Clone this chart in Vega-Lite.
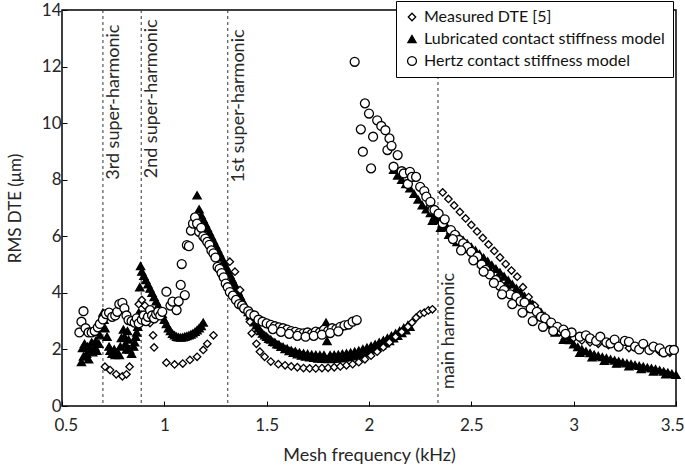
{
  "$schema": "https://vega.github.io/schema/vega-lite/v6.json",
  "width": 614,
  "height": 396,
  "autosize": "none",
  "padding": {"left": 62, "top": 10, "right": 9, "bottom": 64},
  "background": "white",
  "config": {
    "view": {"stroke": "black", "strokeWidth": 1.5},
    "font": "Lato",
    "axis": {
      "grid": false,
      "domain": false,
      "tickSize": -5,
      "tickColor": "black",
      "tickWidth": 1,
      "labelFont": "Lato",
      "labelFontSize": 17,
      "labelColor": "#262626",
      "titleFont": "Lato",
      "titleFontSize": 18,
      "titleFontWeight": "normal",
      "titleColor": "#262626"
    },
    "legend": {
      "title": null, "orient": "none", "legendX": 334, "legendY": -9,
      "strokeColor": "black", "fillColor": "white", "padding": 8,
      "labelFont": "Lato", "labelFontSize": 16, "labelColor": "#111111", "labelLimit": 400,
      "symbolStrokeWidth": 1.3, "rowPadding": 6
    }
  },
  "datasets": {
    "lines": [
      {"x": 0.7, "t": "3rd super-harmonic", "ty": 8.0},
      {"x": 0.887, "t": "2nd super-harmonic", "ty": 8.05},
      {"x": 1.31, "t": "1st super-harmonic", "ty": 7.9},
      {"x": 2.337, "t": "main harmonic", "ty": 0.6}
    ],
    "pts": [
      {"s":"L","x":0.595,"y":1.55},{"s":"L","x":0.6,"y":2.05},{"s":"L","x":0.605,"y":1.75},{"s":"L","x":0.61,"y":2.2},{"s":"L","x":0.62,"y":1.85},{"s":"L","x":0.625,"y":2.1},{"s":"L","x":0.63,"y":1.65},{"s":"L","x":0.64,"y":2.0},{"s":"L","x":0.645,"y":2.25},{"s":"L","x":0.65,"y":1.9},{"s":"L","x":0.66,"y":2.1},{"s":"L","x":0.665,"y":2.3},{"s":"L","x":0.67,"y":1.95},{"s":"L","x":0.68,"y":2.2},{"s":"L","x":0.685,"y":2.5},{"s":"L","x":0.69,"y":2.8},{"s":"L","x":0.7,"y":3.3},{"s":"L","x":0.705,"y":3.05},{"s":"L","x":0.71,"y":2.75},{"s":"L","x":0.72,"y":2.45},{"s":"L","x":0.73,"y":2.1},{"s":"L","x":0.735,"y":1.95},{"s":"L","x":0.745,"y":1.85},{"s":"L","x":0.755,"y":2.0},{"s":"L","x":0.76,"y":1.8},{"s":"L","x":0.77,"y":1.9},{"s":"L","x":0.78,"y":1.8},{"s":"L","x":0.785,"y":2.1},{"s":"L","x":0.79,"y":2.4},{"s":"L","x":0.8,"y":2.7},{"s":"L","x":0.805,"y":2.45},{"s":"L","x":0.81,"y":2.2},{"s":"L","x":0.815,"y":2.0},{"s":"L","x":0.82,"y":2.65},{"s":"L","x":0.825,"y":2.35},{"s":"L","x":0.83,"y":2.0},{"s":"L","x":0.84,"y":1.85},{"s":"L","x":0.85,"y":2.1},{"s":"L","x":0.855,"y":2.25},{"s":"L","x":0.86,"y":2.45},{"s":"L","x":0.865,"y":2.6},{"s":"L","x":0.87,"y":2.8},{"s":"L","x":0.875,"y":3.3},{"s":"L","x":0.88,"y":4.2},{"s":"L","x":0.884,"y":4.95},{"s":"L","x":0.89,"y":4.75},{"s":"L","x":0.9,"y":4.6},{"s":"L","x":0.91,"y":4.45},{"s":"L","x":0.92,"y":4.3},{"s":"L","x":0.93,"y":4.15},{"s":"L","x":0.94,"y":4.0},{"s":"L","x":0.95,"y":3.85},{"s":"L","x":0.96,"y":3.7},{"s":"L","x":0.97,"y":3.55},{"s":"L","x":0.98,"y":3.4},{"s":"L","x":0.99,"y":3.25},{"s":"L","x":1.0,"y":3.05},{"s":"L","x":1.01,"y":2.9},{"s":"L","x":1.02,"y":2.75},{"s":"L","x":1.03,"y":2.65},{"s":"L","x":1.04,"y":2.55},{"s":"L","x":1.05,"y":2.5},{"s":"L","x":1.06,"y":2.45},{"s":"L","x":1.07,"y":2.43},{"s":"L","x":1.08,"y":2.42},{"s":"L","x":1.09,"y":2.43},{"s":"L","x":1.1,"y":2.45},{"s":"L","x":1.11,"y":2.47},{"s":"L","x":1.12,"y":2.5},{"s":"L","x":1.13,"y":2.53},{"s":"L","x":1.14,"y":2.57},{"s":"L","x":1.15,"y":2.62},{"s":"L","x":1.16,"y":2.68},{"s":"L","x":1.17,"y":2.75},{"s":"L","x":1.18,"y":2.83},{"s":"L","x":1.19,"y":2.95},
      {"s":"L","x":1.16,"y":7.45},{"s":"L","x":1.17,"y":6.95},{"s":"L","x":1.18,"y":6.75},{"s":"L","x":1.19,"y":6.6},{"s":"L","x":1.2,"y":6.45},{"s":"L","x":1.21,"y":6.3},{"s":"L","x":1.22,"y":6.15},{"s":"L","x":1.23,"y":6.0},{"s":"L","x":1.24,"y":5.85},{"s":"L","x":1.25,"y":5.7},{"s":"L","x":1.26,"y":5.55},{"s":"L","x":1.27,"y":5.4},{"s":"L","x":1.28,"y":5.25},{"s":"L","x":1.29,"y":5.1},{"s":"L","x":1.3,"y":4.95},{"s":"L","x":1.31,"y":4.8},{"s":"L","x":1.32,"y":4.65},{"s":"L","x":1.33,"y":4.5},{"s":"L","x":1.34,"y":4.35},{"s":"L","x":1.35,"y":4.2},{"s":"L","x":1.36,"y":4.05},{"s":"L","x":1.37,"y":3.9},{"s":"L","x":1.38,"y":3.75},{"s":"L","x":1.39,"y":3.6},{"s":"L","x":1.4,"y":3.45},{"s":"L","x":1.41,"y":3.32},{"s":"L","x":1.42,"y":3.2},{"s":"L","x":1.43,"y":3.08},{"s":"L","x":1.44,"y":2.96},{"s":"L","x":1.45,"y":2.85},{"s":"L","x":1.46,"y":2.75},{"s":"L","x":1.47,"y":2.65},{"s":"L","x":1.48,"y":2.56},{"s":"L","x":1.49,"y":2.5},
      {"s":"L","x":1.5,"y":2.45},{"s":"L","x":1.51,"y":2.38},{"s":"L","x":1.52,"y":2.35},{"s":"L","x":1.53,"y":2.27},{"s":"L","x":1.54,"y":2.25},{"s":"L","x":1.55,"y":2.18},{"s":"L","x":1.56,"y":2.17},{"s":"L","x":1.57,"y":2.09},{"s":"L","x":1.58,"y":2.09},{"s":"L","x":1.59,"y":2.01},{"s":"L","x":1.6,"y":2.03},{"s":"L","x":1.61,"y":1.94},{"s":"L","x":1.62,"y":1.97},{"s":"L","x":1.63,"y":1.88},{"s":"L","x":1.64,"y":1.93},{"s":"L","x":1.65,"y":1.83},{"s":"L","x":1.66,"y":1.89},{"s":"L","x":1.67,"y":1.78},{"s":"L","x":1.68,"y":1.86},{"s":"L","x":1.69,"y":1.75},{"s":"L","x":1.7,"y":1.84},{"s":"L","x":1.71,"y":1.72},{"s":"L","x":1.72,"y":1.82},{"s":"L","x":1.73,"y":1.7},{"s":"L","x":1.74,"y":1.81},{"s":"L","x":1.75,"y":1.68},{"s":"L","x":1.76,"y":1.8},{"s":"L","x":1.77,"y":1.67},{"s":"L","x":1.78,"y":1.8},{"s":"L","x":1.79,"y":2.95},{"s":"L","x":1.795,"y":2.3},{"s":"L","x":1.8,"y":1.66},{"s":"L","x":1.81,"y":1.8},{"s":"L","x":1.82,"y":1.67},{"s":"L","x":1.83,"y":1.81},{"s":"L","x":1.84,"y":1.68},{"s":"L","x":1.85,"y":1.82},{"s":"L","x":1.86,"y":1.69},{"s":"L","x":1.87,"y":1.84},{"s":"L","x":1.88,"y":1.71},{"s":"L","x":1.89,"y":1.86},{"s":"L","x":1.9,"y":1.73},{"s":"L","x":1.91,"y":1.89},{"s":"L","x":1.92,"y":1.76},{"s":"L","x":1.93,"y":1.92},{"s":"L","x":1.94,"y":1.8},{"s":"L","x":1.95,"y":1.96},{"s":"L","x":1.96,"y":1.84},{"s":"L","x":1.97,"y":2.01},{"s":"L","x":1.98,"y":1.89},{"s":"L","x":1.99,"y":2.06},{"s":"L","x":2.0,"y":1.94},{"s":"L","x":2.01,"y":2.12},{"s":"L","x":2.02,"y":2.0},{"s":"L","x":2.03,"y":2.18},{"s":"L","x":2.04,"y":2.07},{"s":"L","x":2.05,"y":2.25},{"s":"L","x":2.06,"y":2.14},{"s":"L","x":2.07,"y":2.32},{"s":"L","x":2.08,"y":2.22},{"s":"L","x":2.09,"y":2.4},{"s":"L","x":2.1,"y":2.3},{"s":"L","x":2.11,"y":2.48},{"s":"L","x":2.12,"y":2.39},{"s":"L","x":2.13,"y":2.57},{"s":"L","x":2.14,"y":2.48},{"s":"L","x":2.15,"y":2.66},{"s":"L","x":2.16,"y":2.58},{"s":"L","x":2.17,"y":2.76},{"s":"L","x":2.18,"y":2.68},{"s":"L","x":2.19,"y":2.86},{"s":"L","x":2.2,"y":2.8},
      {"s":"L","x":2.12,"y":8.35},{"s":"L","x":2.14,"y":8.15},{"s":"L","x":2.16,"y":8.0},{"s":"L","x":2.18,"y":7.85},{"s":"L","x":2.2,"y":7.7},{"s":"L","x":2.22,"y":7.5},{"s":"L","x":2.24,"y":7.3},{"s":"L","x":2.26,"y":7.1},{"s":"L","x":2.28,"y":6.95},{"s":"L","x":2.3,"y":6.82},{"s":"L","x":2.32,"y":6.7},{"s":"L","x":2.34,"y":6.58},{"s":"L","x":2.36,"y":6.46},{"s":"L","x":2.38,"y":6.34},{"s":"L","x":2.4,"y":6.22},{"s":"L","x":2.42,"y":6.1},{"s":"L","x":2.44,"y":5.98},{"s":"L","x":2.46,"y":5.86},{"s":"L","x":2.48,"y":5.74},{"s":"L","x":2.5,"y":5.62},{"s":"L","x":2.52,"y":5.5},{"s":"L","x":2.54,"y":5.37},{"s":"L","x":2.56,"y":5.24},{"s":"L","x":2.58,"y":5.11},{"s":"L","x":2.6,"y":4.98},{"s":"L","x":2.62,"y":4.85},{"s":"L","x":2.64,"y":4.72},{"s":"L","x":2.66,"y":4.58},{"s":"L","x":2.68,"y":4.44},{"s":"L","x":2.7,"y":4.3},{"s":"L","x":2.72,"y":4.16},{"s":"L","x":2.74,"y":4.02},{"s":"L","x":2.76,"y":3.88},{"s":"L","x":2.78,"y":3.74},{"s":"L","x":2.8,"y":3.6},{"s":"L","x":2.82,"y":3.46},{"s":"L","x":2.84,"y":3.32},{"s":"L","x":2.86,"y":3.18},{"s":"L","x":2.88,"y":3.04},{"s":"L","x":2.9,"y":2.9},{"s":"L","x":2.92,"y":2.76},{"s":"L","x":2.94,"y":2.62},{"s":"L","x":2.96,"y":2.48},{"s":"L","x":2.98,"y":2.33},{"s":"L","x":3.0,"y":2.18},{"s":"L","x":3.02,"y":2.08},{"s":"L","x":3.04,"y":2.0},{"s":"L","x":3.06,"y":1.93},{"s":"L","x":3.08,"y":1.87},{"s":"L","x":3.1,"y":1.82},{"s":"L","x":3.12,"y":1.77},{"s":"L","x":3.14,"y":1.73},{"s":"L","x":3.16,"y":1.69},{"s":"L","x":3.18,"y":1.65},{"s":"L","x":3.2,"y":1.61},{"s":"L","x":3.22,"y":1.58},{"s":"L","x":3.24,"y":1.54},{"s":"L","x":3.26,"y":1.51},{"s":"L","x":3.28,"y":1.48},{"s":"L","x":3.3,"y":1.45},{"s":"L","x":3.32,"y":1.42},{"s":"L","x":3.34,"y":1.39},{"s":"L","x":3.36,"y":1.36},{"s":"L","x":3.38,"y":1.33},{"s":"L","x":3.4,"y":1.3},{"s":"L","x":3.42,"y":1.26},{"s":"L","x":3.44,"y":1.22},{"s":"L","x":3.46,"y":1.18},{"s":"L","x":3.48,"y":1.14},{"s":"L","x":3.5,"y":1.1},
      {"s":"L","x":2.31,"y":6.55},{"s":"L","x":2.35,"y":6.3},{"s":"L","x":2.39,"y":6.05},{"s":"L","x":2.43,"y":5.8},{"s":"L","x":2.47,"y":5.55},{"s":"L","x":2.51,"y":5.3},{"s":"L","x":2.55,"y":5.05},{"s":"L","x":2.59,"y":4.8},{"s":"L","x":2.63,"y":4.55},{"s":"L","x":2.67,"y":4.28},{"s":"L","x":2.71,"y":4.0},{"s":"L","x":2.75,"y":3.72},{"s":"L","x":2.79,"y":3.44},{"s":"L","x":2.83,"y":3.16},{"s":"L","x":2.87,"y":2.88},{"s":"L","x":2.91,"y":2.6},{"s":"L","x":2.95,"y":2.34},{"s":"L","x":3.03,"y":1.88},{"s":"L","x":3.09,"y":1.72},{"s":"L","x":3.15,"y":1.6},{"s":"L","x":3.21,"y":1.5},{"s":"L","x":3.27,"y":1.4},{"s":"L","x":3.33,"y":1.31},{"s":"L","x":3.39,"y":1.22},{"s":"L","x":3.45,"y":1.12},
      {"s":"M","x":0.71,"y":1.39},{"s":"M","x":0.735,"y":1.27},{"s":"M","x":0.765,"y":1.12},{"s":"M","x":0.795,"y":1.05},{"s":"M","x":0.815,"y":1.12},{"s":"M","x":0.83,"y":1.39},{"s":"M","x":0.86,"y":3.0},{"s":"M","x":0.875,"y":3.6},{"s":"M","x":0.89,"y":3.75},{"s":"M","x":0.905,"y":3.55},{"s":"M","x":0.92,"y":3.2},{"s":"M","x":0.93,"y":2.93},{"s":"M","x":0.945,"y":2.5},{"s":"M","x":0.95,"y":2.07},{"s":"M","x":1.01,"y":1.53},{"s":"M","x":1.05,"y":1.47},{"s":"M","x":1.09,"y":1.5},{"s":"M","x":1.125,"y":1.63},{"s":"M","x":1.16,"y":1.74},{"s":"M","x":1.19,"y":1.98},{"s":"M","x":1.21,"y":2.2},{"s":"M","x":1.24,"y":2.5},{"s":"M","x":1.32,"y":5.1},{"s":"M","x":1.345,"y":4.75},{"s":"M","x":1.37,"y":4.1},{"s":"M","x":1.39,"y":3.5},{"s":"M","x":1.418,"y":2.98},{"s":"M","x":1.427,"y":2.57},{"s":"M","x":1.45,"y":2.2},{"s":"M","x":1.467,"y":1.92},{"s":"M","x":1.49,"y":1.74},{"s":"M","x":1.52,"y":1.57},{"s":"M","x":1.557,"y":1.48},{"s":"M","x":1.59,"y":1.44},{"s":"M","x":1.62,"y":1.4},{"s":"M","x":1.65,"y":1.37},{"s":"M","x":1.68,"y":1.34},{"s":"M","x":1.71,"y":1.33},{"s":"M","x":1.74,"y":1.33},{"s":"M","x":1.77,"y":1.34},{"s":"M","x":1.8,"y":1.35},{"s":"M","x":1.83,"y":1.37},{"s":"M","x":1.86,"y":1.4},{"s":"M","x":1.89,"y":1.44},{"s":"M","x":1.92,"y":1.48},{"s":"M","x":1.95,"y":1.55},{"s":"M","x":1.98,"y":1.65},{"s":"M","x":2.01,"y":1.78},{"s":"M","x":2.04,"y":1.92},{"s":"M","x":2.07,"y":2.08},{"s":"M","x":2.1,"y":2.25},{"s":"M","x":2.13,"y":2.45},{"s":"M","x":2.16,"y":2.62},{"s":"M","x":2.19,"y":2.8},{"s":"M","x":2.21,"y":2.95},{"s":"M","x":2.23,"y":3.12},{"s":"M","x":2.25,"y":3.25},{"s":"M","x":2.27,"y":3.3},{"s":"M","x":2.29,"y":3.38},{"s":"M","x":2.31,"y":3.42},
      {"s":"M","x":2.36,"y":7.55},{"s":"M","x":2.388,"y":7.32},{"s":"M","x":2.416,"y":7.09},{"s":"M","x":2.444,"y":6.86},{"s":"M","x":2.472,"y":6.63},{"s":"M","x":2.5,"y":6.4},{"s":"M","x":2.528,"y":6.17},{"s":"M","x":2.556,"y":5.94},{"s":"M","x":2.584,"y":5.71},{"s":"M","x":2.612,"y":5.48},{"s":"M","x":2.64,"y":5.25},{"s":"M","x":2.668,"y":5.02},{"s":"M","x":2.696,"y":4.79},{"s":"M","x":2.724,"y":4.57},{"s":"M","x":2.752,"y":4.2},{"s":"M","x":2.78,"y":3.85},{"s":"M","x":2.81,"y":3.55},{"s":"M","x":2.84,"y":3.25},{"s":"M","x":2.87,"y":3.0},{"s":"M","x":2.9,"y":2.8},{"s":"M","x":2.93,"y":2.62},{"s":"M","x":2.96,"y":2.5},{"s":"M","x":3.0,"y":2.4},{"s":"M","x":3.04,"y":2.32},{"s":"M","x":3.08,"y":2.25},{"s":"M","x":3.12,"y":2.2},{"s":"M","x":3.17,"y":2.15},{"s":"M","x":3.22,"y":2.1},{"s":"M","x":3.27,"y":2.05},{"s":"M","x":3.32,"y":2.0},{"s":"M","x":3.37,"y":1.95},{"s":"M","x":3.42,"y":1.92},{"s":"M","x":3.47,"y":1.88},
      {"s":"H","x":0.585,"y":2.6},{"s":"H","x":0.595,"y":2.98},{"s":"H","x":0.605,"y":3.35},{"s":"H","x":0.615,"y":2.75},{"s":"H","x":0.63,"y":2.6},{"s":"H","x":0.645,"y":2.6},{"s":"H","x":0.66,"y":2.65},{"s":"H","x":0.675,"y":2.78},{"s":"H","x":0.685,"y":2.9},{"s":"H","x":0.7,"y":3.06},{"s":"H","x":0.715,"y":3.25},{"s":"H","x":0.73,"y":3.3},{"s":"H","x":0.745,"y":3.15},{"s":"H","x":0.76,"y":3.2},{"s":"H","x":0.77,"y":3.33},{"s":"H","x":0.78,"y":3.6},{"s":"H","x":0.795,"y":3.65},{"s":"H","x":0.805,"y":3.45},{"s":"H","x":0.815,"y":3.2},{"s":"H","x":0.825,"y":3.04},{"s":"H","x":0.84,"y":3.0},{"s":"H","x":0.855,"y":2.95},{"s":"H","x":0.865,"y":3.1},{"s":"H","x":0.875,"y":2.92},{"s":"H","x":0.89,"y":3.05},{"s":"H","x":0.9,"y":3.2},{"s":"H","x":0.91,"y":3.0},{"s":"H","x":0.92,"y":3.15},{"s":"H","x":0.93,"y":3.39},{"s":"H","x":0.94,"y":3.2},{"s":"H","x":0.95,"y":3.1},{"s":"H","x":0.96,"y":3.25},{"s":"H","x":0.97,"y":3.33},{"s":"H","x":0.98,"y":3.2},{"s":"H","x":0.99,"y":3.33},{"s":"H","x":1.01,"y":4.04},{"s":"H","x":1.03,"y":3.55},{"s":"H","x":1.04,"y":3.69},{"s":"H","x":1.06,"y":3.39},{"s":"H","x":1.07,"y":3.7},{"s":"H","x":1.08,"y":4.28},{"s":"H","x":1.1,"y":3.92},{"s":"H","x":1.085,"y":5.02},{"s":"H","x":1.11,"y":5.69},{"s":"H","x":1.12,"y":5.65},{"s":"H","x":1.13,"y":6.2},{"s":"H","x":1.14,"y":6.45},{"s":"H","x":1.15,"y":6.67},{"s":"H","x":1.16,"y":6.45},{"s":"H","x":1.17,"y":6.16},{"s":"H","x":1.18,"y":6.3},{"s":"H","x":1.19,"y":6.0},{"s":"H","x":1.2,"y":5.92},{"s":"H","x":1.21,"y":5.8},{"s":"H","x":1.22,"y":5.7},{"s":"H","x":1.23,"y":5.5},{"s":"H","x":1.24,"y":5.4},{"s":"H","x":1.25,"y":5.25},{"s":"H","x":1.26,"y":4.92},{"s":"H","x":1.27,"y":4.85},{"s":"H","x":1.28,"y":4.7},{"s":"H","x":1.29,"y":4.55},{"s":"H","x":1.3,"y":4.33},{"s":"H","x":1.31,"y":4.2},{"s":"H","x":1.32,"y":4.03},{"s":"H","x":1.335,"y":3.9},{"s":"H","x":1.35,"y":3.75},{"s":"H","x":1.365,"y":3.6},{"s":"H","x":1.38,"y":3.55},{"s":"H","x":1.39,"y":3.45},{"s":"H","x":1.41,"y":3.35},{"s":"H","x":1.42,"y":3.25},{"s":"H","x":1.44,"y":3.2},{"s":"H","x":1.46,"y":3.05},{"s":"H","x":1.48,"y":2.98},{"s":"H","x":1.5,"y":2.92},{"s":"H","x":1.52,"y":2.87},{"s":"H","x":1.54,"y":2.82},{"s":"H","x":1.56,"y":2.78},{"s":"H","x":1.58,"y":2.75},{"s":"H","x":1.6,"y":2.7},{"s":"H","x":1.62,"y":2.65},{"s":"H","x":1.64,"y":2.62},{"s":"H","x":1.66,"y":2.58},{"s":"H","x":1.68,"y":2.57},{"s":"H","x":1.7,"y":2.6},{"s":"H","x":1.72,"y":2.55},{"s":"H","x":1.74,"y":2.63},{"s":"H","x":1.76,"y":2.6},{"s":"H","x":1.78,"y":2.69},{"s":"H","x":1.8,"y":2.65},{"s":"H","x":1.82,"y":2.75},{"s":"H","x":1.84,"y":2.72},{"s":"H","x":1.86,"y":2.8},{"s":"H","x":1.88,"y":2.85},{"s":"H","x":1.9,"y":2.88},{"s":"H","x":1.92,"y":2.98},{"s":"H","x":1.94,"y":3.04},
      {"s":"H","x":1.53,"y":2.72},{"s":"H","x":1.57,"y":2.62},{"s":"H","x":1.61,"y":2.55},{"s":"H","x":1.65,"y":2.48},{"s":"H","x":1.69,"y":2.45},{"s":"H","x":1.73,"y":2.48},{"s":"H","x":1.77,"y":2.52},{"s":"H","x":1.81,"y":2.58},{"s":"H","x":1.85,"y":2.64},
      {"s":"H","x":1.93,"y":12.17},{"s":"H","x":1.96,"y":9.78},{"s":"H","x":1.97,"y":8.99},{"s":"H","x":1.98,"y":10.7},{"s":"H","x":2.0,"y":10.34},{"s":"H","x":2.01,"y":8.4},{"s":"H","x":2.02,"y":9.52},{"s":"H","x":2.04,"y":10.1},{"s":"H","x":2.06,"y":9.9},{"s":"H","x":2.08,"y":9.75},{"s":"H","x":2.09,"y":9.05},{"s":"H","x":2.1,"y":9.46},{"s":"H","x":2.11,"y":9.2},{"s":"H","x":2.12,"y":8.46},{"s":"H","x":2.14,"y":8.87},{"s":"H","x":2.16,"y":8.3},{"s":"H","x":2.17,"y":8.22},{"s":"H","x":2.19,"y":7.85},{"s":"H","x":2.2,"y":8.28},{"s":"H","x":2.21,"y":8.1},{"s":"H","x":2.23,"y":8.1},{"s":"H","x":2.25,"y":7.75},{"s":"H","x":2.27,"y":7.6},{"s":"H","x":2.28,"y":7.4},{"s":"H","x":2.3,"y":7.22},{"s":"H","x":2.31,"y":6.93},{"s":"H","x":2.32,"y":6.93},{"s":"H","x":2.34,"y":6.8},{"s":"H","x":2.36,"y":6.46},{"s":"H","x":2.37,"y":6.6},{"s":"H","x":2.4,"y":6.22},{"s":"H","x":2.42,"y":6.05},{"s":"H","x":2.44,"y":5.87},{"s":"H","x":2.46,"y":5.75},{"s":"H","x":2.48,"y":5.63},{"s":"H","x":2.5,"y":5.45},{"s":"H","x":2.53,"y":5.28},{"s":"H","x":2.55,"y":5.0},{"s":"H","x":2.57,"y":4.81},{"s":"H","x":2.59,"y":4.65},{"s":"H","x":2.62,"y":4.45},{"s":"H","x":2.64,"y":4.25},{"s":"H","x":2.66,"y":4.1},{"s":"H","x":2.69,"y":3.95},{"s":"H","x":2.72,"y":3.86},{"s":"H","x":2.74,"y":3.7},{"s":"H","x":2.76,"y":3.66},{"s":"H","x":2.79,"y":3.45},{"s":"H","x":2.82,"y":3.33},{"s":"H","x":2.84,"y":3.15},{"s":"H","x":2.86,"y":3.1},{"s":"H","x":2.89,"y":2.95},{"s":"H","x":2.92,"y":2.8},{"s":"H","x":2.95,"y":2.7},{"s":"H","x":2.99,"y":2.6},{"s":"H","x":3.03,"y":2.45},{"s":"H","x":3.06,"y":2.5},{"s":"H","x":3.08,"y":2.39},{"s":"H","x":3.11,"y":2.3},{"s":"H","x":3.13,"y":2.45},{"s":"H","x":3.16,"y":2.25},{"s":"H","x":3.18,"y":2.21},{"s":"H","x":3.2,"y":2.35},{"s":"H","x":3.22,"y":2.1},{"s":"H","x":3.25,"y":2.3},{"s":"H","x":3.27,"y":2.27},{"s":"H","x":3.3,"y":2.1},{"s":"H","x":3.32,"y":2.0},{"s":"H","x":3.34,"y":2.2},{"s":"H","x":3.37,"y":1.98},{"s":"H","x":3.39,"y":2.1},{"s":"H","x":3.42,"y":2.04},{"s":"H","x":3.44,"y":1.9},{"s":"H","x":3.47,"y":1.98},{"s":"H","x":3.49,"y":1.98},
      {"s":"H","x":2.41,"y":5.9},{"s":"H","x":2.45,"y":5.5},{"s":"H","x":2.51,"y":5.15},{"s":"H","x":2.56,"y":4.75},{"s":"H","x":2.61,"y":4.35},{"s":"H","x":2.65,"y":3.95},{"s":"H","x":2.7,"y":3.6},{"s":"H","x":2.75,"y":3.3},{"s":"H","x":2.8,"y":3.0},{"s":"H","x":2.85,"y":2.8},{"s":"H","x":2.9,"y":2.65},{"s":"H","x":2.96,"y":2.55}
    ]
  },
  "layer": [
    {
      "data": {"name": "lines"},
      "mark": {"type": "rule", "strokeDash": [3, 3], "color": "#333333", "strokeWidth": 1},
      "encoding": {
        "x": {"field": "x", "type": "quantitative", "scale": {"domain": [0.5, 3.5], "nice": false}}
      }
    },
    {
      "data": {"name": "lines"},
      "mark": {"type": "text", "angle": 270, "align": "left", "baseline": "top", "dy": 2, "fontSize": 18, "font": "Lato", "color": "#262626"},
      "encoding": {
        "x": {"field": "x", "type": "quantitative"},
        "y": {"field": "ty", "type": "quantitative"},
        "text": {"field": "t"}
      }
    },
    {
      "data": {"name": "pts"},
      "mark": {"type": "point", "filled": true, "strokeWidth": 1.3, "opacity": 1},
      "encoding": {
        "x": {
          "field": "x", "type": "quantitative",
          "scale": {"domain": [0.5, 3.5], "nice": false},
          "axis": {"title": "Mesh frequency (kHz)", "values": [0.5, 1, 1.5, 2, 2.5, 3, 3.5], "format": "~g", "labelPadding": 16, "titlePadding": 13, "labelFlush": true, "labelFlushOffset": 8}
        },
        "y": {
          "field": "y", "type": "quantitative",
          "scale": {"domain": [0, 14], "nice": false},
          "axis": {"title": "RMS DTE (μm)", "titleFontSize": 17, "values": [0, 2, 4, 6, 8, 10, 12, 14], "labelPadding": 6, "titlePadding": 17, "labelFlush": false}
        },
        "shape": {
          "field": "s", "type": "nominal",
          "scale": {"domain": ["M", "L", "H"], "range": ["diamond", "triangle-up", "circle"]},
          "legend": {"labelExpr": "datum.label == 'M' ? 'Measured DTE [5]' : datum.label == 'L' ? 'Lubricated contact stiffness model' : 'Hertz contact stiffness model'"}
        },
        "fill": {
          "field": "s", "type": "nominal",
          "scale": {"domain": ["M", "L", "H"], "range": ["white", "black", "white"]},
          "legend": {"labelExpr": "datum.label == 'M' ? 'Measured DTE [5]' : datum.label == 'L' ? 'Lubricated contact stiffness model' : 'Hertz contact stiffness model'"}
        },
        "stroke": {
          "field": "s", "type": "nominal",
          "scale": {"domain": ["M", "L", "H"], "range": ["black", "black", "black"]},
          "legend": {"labelExpr": "datum.label == 'M' ? 'Measured DTE [5]' : datum.label == 'L' ? 'Lubricated contact stiffness model' : 'Hertz contact stiffness model'"}
        },
        "size": {
          "field": "s", "type": "nominal",
          "scale": {"domain": ["M", "L", "H"], "range": [55, 80, 95]},
          "legend": {"labelExpr": "datum.label == 'M' ? 'Measured DTE [5]' : datum.label == 'L' ? 'Lubricated contact stiffness model' : 'Hertz contact stiffness model'"}
        }
      }
    }
  ]
}
